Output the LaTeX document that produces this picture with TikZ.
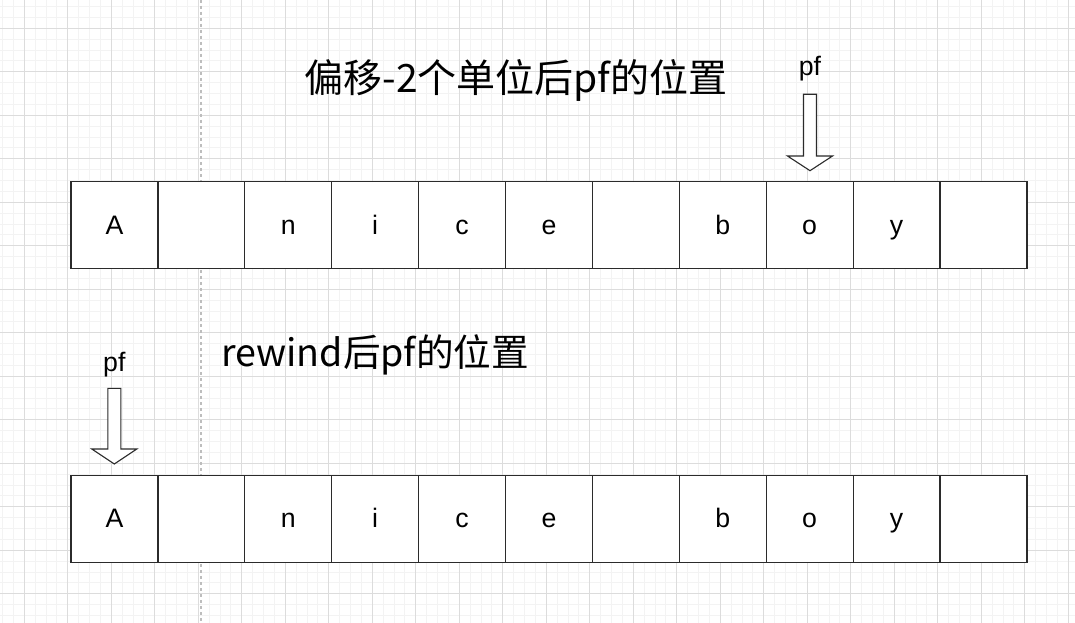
\documentclass[tikz,border=0pt]{standalone}
\usepackage{fontspec}
\setmainfont{Liberation Sans}
\newfontfamily\cjk{Noto Sans CJK SC}
\definecolor{gridmajor}{HTML}{DCDCDC}
\definecolor{gridminor}{HTML}{F3F3F3}
\definecolor{dashgray}{HTML}{BDBDBD}
\definecolor{boxline}{HTML}{2B2B2B}
\begin{document}
\begin{tikzpicture}[x=1pt,y=-1pt,
  cell/.style={draw=boxline,line width=1.2pt,fill=white,minimum width=86.9pt,minimum height=87pt,
    inner sep=0pt,text height=18.5pt,text depth=0pt,font=\fontsize{26.7}{30}\selectfont},
  title/.style={anchor=base,inner sep=0pt,font=\cjk\fontsize{39}{44}\selectfont},
  pflabel/.style={anchor=base,inner sep=0pt,font=\fontsize{26.7}{30}\selectfont},
  blockarrow/.style={draw=boxline,line width=1.1pt,fill=white,line join=miter}]
\useasboundingbox (0,0) rectangle (1075,623);
\fill[white] (0,0) rectangle (1075,623);
% minor grid
\foreach \i in {0,...,100} {
  \pgfmathsetmacro{\gx}{24.3-43.5+10.875*\i}
  \draw[gridminor,line width=1pt] (\gx,0) -- (\gx,623);
}
\foreach \i in {0,...,60} {
  \pgfmathsetmacro{\gy}{28.3-43.5+10.875*\i}
  \draw[gridminor,line width=1pt] (0,\gy) -- (1075,\gy);
}
% major grid
\foreach \i in {0,...,25} {
  \pgfmathsetmacro{\gx}{24.3-43.5+43.5*\i}
  \draw[gridmajor,line width=1pt] (\gx,0) -- (\gx,623);
}
\foreach \i in {0,...,15} {
  \pgfmathsetmacro{\gy}{28.3-43.5+43.5*\i}
  \draw[gridmajor,line width=1pt] (0,\gy) -- (1075,\gy);
}
% dashed guide
\coordinate (gtop) at (200.8,0);
\coordinate (gbot) at (200.8,623);
\draw[dashgray,line width=1.6pt,dash pattern=on 3pt off 3pt] (gtop) -- (gbot);
% rows of cells
\foreach \t [count=\k from 0] in {A,{},n,i,c,e,{},b,o,y,{}} {
  \node[cell] (a\k) at ({71+86.9*\k+43.45},225.2) {\t};
  \node[cell] (b\k) at ({71+86.9*\k+43.45},518.7) {\t};
}
% titles
\node[title] (t1) at (516,93) {偏移-2个单位后pf的位置};
\node[title,font=\cjk\fontsize{37.6}{42}\selectfont] (t2) at (375,366.5) {rewind后pf的位置};
% pf labels
\node[pflabel] (p1) at (810,76) {pf};
\node[pflabel] (p2) at (114.3,371.5) {pf};
% block arrows
\draw[blockarrow] (803.5,94.3) -- (816.5,94.3) -- (816.5,156) -- (832.5,156) -- (810,170.7)
  -- (787.5,156) -- (803.5,156) -- cycle;
\draw[blockarrow] (107.8,388.3) -- (120.8,388.3) -- (120.8,449) -- (136.8,449) -- (114.3,464)
  -- (91.8,449) -- (107.8,449) -- cycle;
\end{tikzpicture}
\end{document}
